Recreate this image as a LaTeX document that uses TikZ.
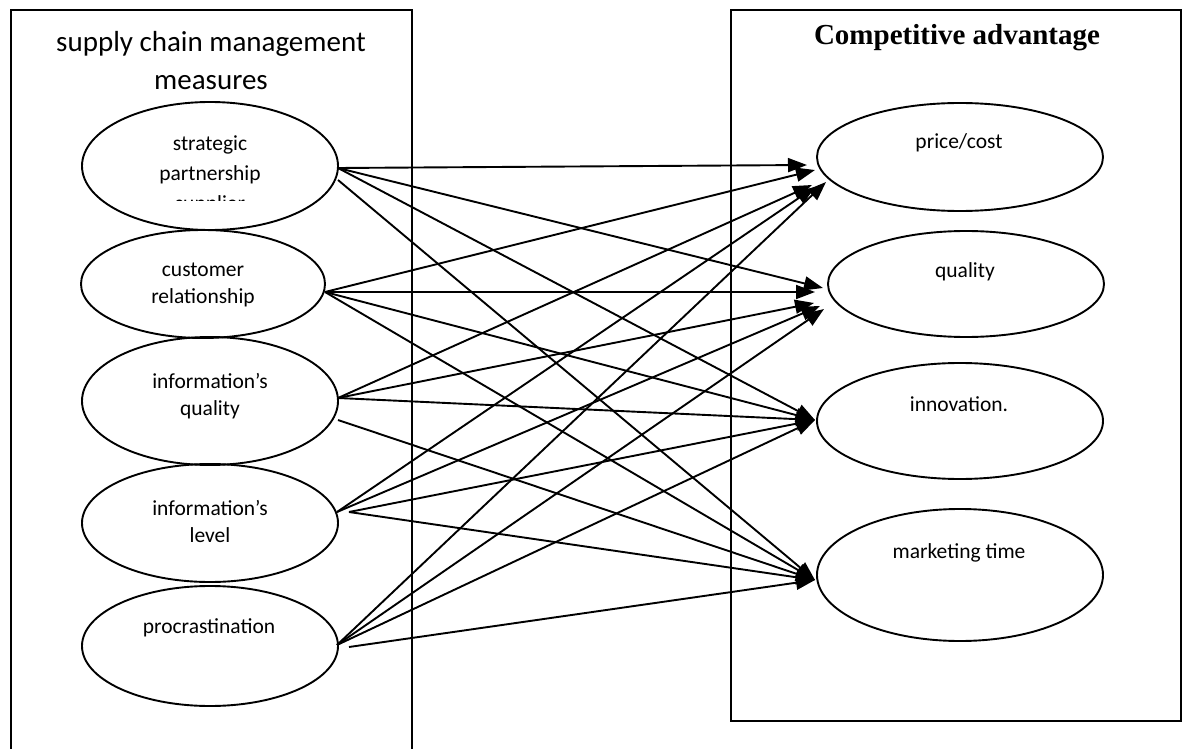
\documentclass[tikz,border=0pt]{standalone}
\usepackage{fontspec}
\setmainfont{Carlito}
\newfontfamily\tnr{Liberation Serif}
\usetikzlibrary{shapes.geometric,arrows.meta}
\begin{document}
\begin{tikzpicture}[x=1pt,y=-1pt,
  frame/.style={line width=2pt},
  oval/.style={ellipse,draw,line width=1.9pt,inner sep=0pt},
  lbl/.style={align=center,inner sep=0pt,font=\fontsize{21.5}{27}\selectfont},
  conn/.style={line width=1.9pt,-{Triangle[length=19pt,width=14pt]}}]
\useasboundingbox (0,0) rectangle (1187,749);
% frames
\draw[frame] (11,770) -- (11,10) -- (412,10) -- (412,770);
\draw[frame] (731,10) rectangle (1181,721);
% headings
\node[align=center,inner sep=0pt,font=\fontsize{29}{38}\selectfont] (hl) at (211,61) {supply chain management\\measures};
\node[inner sep=0pt,font=\tnr\bfseries\fontsize{29}{34}\selectfont] (hr) at (957,38) {Competitive advantage};
% left ellipses
\node[oval,minimum width=256pt,minimum height=128pt] (l1) at (210,166) {};
\node[oval,minimum width=244pt,minimum height=108pt] (l2) at (203,284) {};
\node[oval,minimum width=256pt,minimum height=128pt] (l3) at (210,401) {};
\node[oval,minimum width=256pt,minimum height=118pt] (l4) at (210,523) {};
\node[oval,minimum width=256pt,minimum height=120pt] (l5) at (210,646) {};
% right ellipses
\node[oval,minimum width=286pt,minimum height=108pt] (r1) at (960,157) {};
\node[oval,minimum width=276pt,minimum height=106pt] (r2) at (966,284) {};
\node[oval,minimum width=286pt,minimum height=116pt] (r3) at (960,421) {};
\node[oval,minimum width=286pt,minimum height=132pt] (r4) at (960,575) {};
% left texts
\begin{scope}
\clip (100,110) rectangle (320,201);
\node[lbl,font=\fontsize{21.5}{30}\selectfont] (t1) at (210,175) {strategic\\partnership\\supplier};
\end{scope}
\node[lbl] (t2) at (203,285) {customer\\relationship};
\node[lbl] (t3) at (210,396) {information’s\\quality};
\node[lbl] (t4) at (210,521) {information’s\\level};
\node[lbl] (t5) at (209,628) {procrastination};
% right texts
\node[lbl] (u1) at (959,143) {price/cost};
\node[lbl] (u2) at (965,272) {quality};
\node[lbl] (u3) at (959,404) {innovation.};
\node[lbl] (u4) at (959,553) {marketing time};
% connector end points
\coordinate (s1a) at (338,168);
\coordinate (s1b) at (338,180);
\coordinate (s2) at (325,292);
\coordinate (s3a) at (338,398);
\coordinate (s3b) at (338,420);
\coordinate (s4a) at (337,512);
\coordinate (s4b) at (349,512);
\coordinate (s5a) at (337,645);
\coordinate (s5b) at (349,647);
\coordinate (p1) at (807,165);
\coordinate (p2) at (815,170);
\coordinate (p3) at (812,185);
\coordinate (p4) at (815,187);
\coordinate (p5) at (826,182);
\coordinate (q1) at (823,288);
\coordinate (q2) at (815,292);
\coordinate (q3) at (814,303);
\coordinate (q4) at (820,306);
\coordinate (q5) at (824,309);
\coordinate (i0) at (815,420);
\coordinate (m0) at (815,580);
% connectors
\draw[conn] (s1a) -- (p1);
\draw[conn] (s1a) -- (q1);
\draw[conn] (s1a) -- (i0);
\draw[conn] (s1b) -- (m0);
\draw[conn] (s2) -- (p2);
\draw[conn] (s2) -- (q2);
\draw[conn] (s2) -- (i0);
\draw[conn] (s2) -- (m0);
\draw[conn] (s3a) -- (p3);
\draw[conn] (s3a) -- (q3);
\draw[conn] (s3a) -- (i0);
\draw[conn] (s3b) -- (m0);
\draw[conn] (s4a) -- (p4);
\draw[conn] (s4a) -- (q4);
\draw[conn] (s4b) -- (i0);
\draw[conn] (s4b) -- (m0);
\draw[conn] (s5a) -- (p5);
\draw[conn] (s5a) -- (q5);
\draw[conn] (s5a) -- (i0);
\draw[conn] (s5b) -- (m0);
\end{tikzpicture}
\end{document}
